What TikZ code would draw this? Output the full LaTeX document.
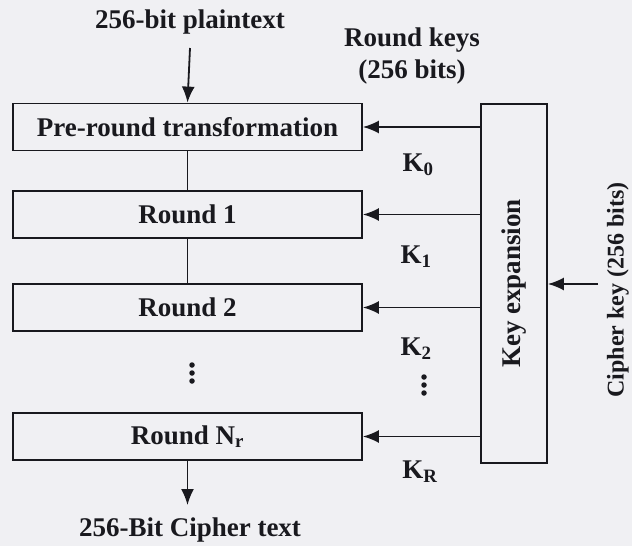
\documentclass[tikz,border=0pt]{standalone}
\usepackage{fontspec}
\setmainfont{Liberation Serif}
\usetikzlibrary{arrows.meta}
\definecolor{bgc}{RGB}{240,240,243}
\definecolor{ink}{RGB}{25,25,30}
\begin{document}
\begin{tikzpicture}[x=1pt,y=-1pt,
  every node/.style={text=ink,font=\fontsize{27}{32}\selectfont\bfseries},
  blk/.style={draw=ink,line width=1.8pt,minimum width=349pt,minimum height=47pt,inner sep=0pt},
  lbl/.style={inner sep=0pt},
  arr/.style={draw=ink,line width=1.8pt,-{Latex[length=16pt,width=13pt]}},
  ln/.style={draw=ink,line width=1.8pt},
  dot/.style={fill=ink,draw=none,circle,inner sep=0pt,minimum size=5.5pt}]
\fill[bgc] (0,0) rectangle (632,546);
\useasboundingbox (0,0) rectangle (632,546);
\node[lbl] (pt) at (190,22) {256-bit plaintext};
\coordinate (in) at (190,48);
\node[blk] (pre) at (187.5,127) {Pre-round transformation};
\node[blk] (r1) at (187.5,214.5) {Round 1};
\node[blk] (r2) at (187.5,307.5) {Round 2};
\node[dot] (d1) at (192,365) {};
\node[dot] (d2) at (192,373) {};
\node[dot] (d3) at (192,381) {};
\node[blk] (rn) at (187.5,436.5) {Round N\textsubscript{r}};
\node[lbl] (ct) at (190,530) {256-Bit Cipher text};
\node[draw=ink,line width=1.8pt,minimum width=66pt,minimum height=359pt,inner sep=0pt] (ke) at (514,283.5) {};
\node[lbl,rotate=90] (ket) at (514,283.5) {Key expansion};
\node[lbl,align=center] (rk) at (412,56) {Round keys\\(256 bits)};
\node[lbl] (k0) at (418,165) {K\textsubscript{0}};
\node[lbl] (k1) at (416,257) {K\textsubscript{1}};
\node[lbl] (k2) at (416,349) {K\textsubscript{2}};
\node[dot] (e1) at (424,377) {};
\node[dot] (e2) at (424,385) {};
\node[dot] (e3) at (424,393) {};
\node[lbl] (kr) at (420,472) {K\textsubscript{R}};
\node[lbl,rotate=90,font=\fontsize{24}{28}\selectfont\bfseries] (ckt) at (618,290) {Cipher key (256 bits)};
\coordinate (ck) at (598,284);
\coordinate (out) at (187.5,505);
\draw[arr] (in) -- (pre.north);
\draw[ln] (pre.south) -- (r1.north);
\draw[ln] (r1.south) -- (r2.north);
\draw[arr] (rn.south) -- (out);
\draw[arr] (ke.west |- pre.east) -- (pre.east);
\draw[arr] (ke.west |- r1.east) -- (r1.east);
\draw[arr] (ke.west |- r2.east) -- (r2.east);
\draw[arr] (ke.west |- rn.east) -- (rn.east);
\draw[arr] (ck) -- (ke.east |- ck);
\end{tikzpicture}
\end{document}
